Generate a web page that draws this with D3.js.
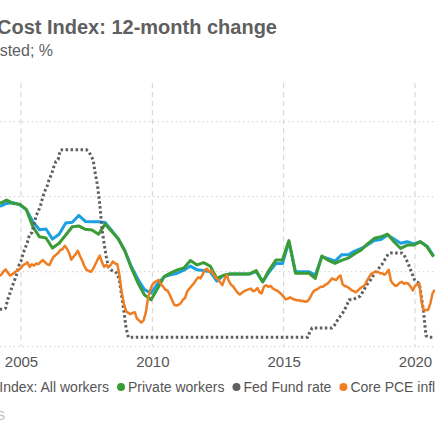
<!DOCTYPE html>
<html>
<head>
<meta charset="utf-8">
<script src="https://cdn.jsdelivr.net/npm/d3@7"></script>
<style>
  html, body { margin: 0; padding: 0; background: #fff; }
  svg { display: block; font-family: "Liberation Sans", Arial, Helvetica, sans-serif; }
</style>
</head>
<body>
<div id="chart"></div>
<script>
// quarterly ECI, first point = March 2004
var eciAll = [
    3.74, 3.82, 3.84, 3.78, 3.66, 3.33, 3.12, 3.14, 2.87, 3.0,
    3.3, 3.32, 3.5, 3.34, 3.33, 3.33, 3.31, 3.1, 2.87, 2.56,
    2.14, 1.8, 1.52, 1.43, 1.68, 1.86, 1.92, 1.96, 2.04, 2.15,
    2.05, 2.03, 2.0, 1.75, 1.9, 1.94, 1.94, 1.94, 1.94, 2.0,
    1.73, 2.0, 2.22, 2.22, 2.8, 2.0, 2.0, 2.0, 1.91, 2.4,
    2.35, 2.28, 2.45, 2.45, 2.55, 2.62, 2.72, 2.83, 2.86, 2.98,
    2.87, 2.76, 2.8, 2.74, 2.8, 2.68, 2.42
];
var eciPrivate = [
    3.82, 3.91, 3.82, 3.8, 3.66, 3.2, 2.93, 2.9, 2.63, 2.76,
    2.98, 3.2, 3.22, 3.13, 3.11, 3.0, 3.27, 3.07, 2.88, 2.55,
    2.1, 1.7, 1.38, 1.25, 1.55, 1.87, 1.97, 2.05, 2.1, 2.3,
    2.18, 2.24, 2.15, 1.82, 1.9, 1.94, 1.94, 1.94, 1.94, 2.03,
    1.73, 2.05, 2.31, 2.31, 2.83, 1.96, 1.96, 1.96, 1.82, 2.42,
    2.3, 2.22, 2.3, 2.36, 2.48, 2.58, 2.75, 2.89, 2.93, 3.0,
    2.8, 2.62, 2.71, 2.71, 2.8, 2.67, 2.4
];

// monthly, first point = January 2004
var corePce = [
    1.9, 1.95, 1.88, 1.92, 2.0, 2.06, 1.98, 1.9, 1.93, 1.98, 2.02, 2.05,
    2.1, 2.18, 2.2, 2.25, 2.13, 2.2, 2.16, 2.22, 2.2, 2.26, 2.31, 2.25,
    2.2, 2.18, 2.3, 2.4, 2.45, 2.5, 2.58, 2.6, 2.69, 2.62, 2.5, 2.32,
    2.4, 2.47, 2.56, 2.42, 2.3, 2.15, 2.05, 2.02, 2.0, 2.08, 2.2, 2.32,
    2.43, 2.25, 2.13, 2.18, 2.12, 2.18, 2.27, 2.22, 2.2, 1.9, 1.45, 1.15,
    0.95, 0.9, 0.87, 0.9, 0.92, 0.75, 0.7, 0.64, 0.7, 0.9, 1.28, 1.5,
    1.65, 1.72, 1.75, 1.78, 1.66, 1.6, 1.52, 1.5, 1.38, 1.25, 1.12, 1.1,
    1.12, 1.16, 1.25, 1.3, 1.48, 1.55, 1.62, 1.69, 1.78, 1.85, 1.82, 1.92,
    2.05, 2.08, 2.0, 2.02, 1.92, 1.84, 1.8, 1.72, 1.64, 1.8, 1.91, 1.75,
    1.65, 1.6, 1.52, 1.44, 1.39, 1.44, 1.48, 1.51, 1.53, 1.55, 1.48, 1.5,
    1.56, 1.45, 1.42, 1.6, 1.64, 1.6, 1.62, 1.56, 1.52, 1.5, 1.45, 1.4,
    1.33, 1.26, 1.28, 1.32, 1.28, 1.26, 1.24, 1.24, 1.22, 1.22, 1.2, 1.22,
    1.3, 1.42, 1.5, 1.52, 1.56, 1.6, 1.6, 1.65, 1.68, 1.74, 1.82, 1.8,
    1.78, 1.86, 1.9, 1.66, 1.62, 1.6, 1.56, 1.51, 1.48, 1.45, 1.5, 1.56,
    1.6, 1.64, 1.75, 1.85, 1.94, 1.98, 2.0, 2.0, 1.96, 1.96, 1.92, 1.97,
    2.05, 1.75, 1.68, 1.62, 1.64, 1.7, 1.73, 1.68, 1.7, 1.68, 1.6, 1.5,
    1.62, 1.65, 1.69, 1.2, 0.97, 0.98, 0.98, 1.15, 1.42, 1.52
];
var fedFunds = [
    1.0, 1.0, 1.0, 1.0, 1.0, 1.03, 1.26, 1.43, 1.61, 1.76, 1.93, 2.16,
    2.28, 2.5, 2.63, 2.79, 3.0, 3.04, 3.26, 3.5, 3.62, 3.78, 4.0, 4.16,
    4.29, 4.49, 4.59, 4.79, 4.94, 4.99, 5.24, 5.25, 5.25, 5.25, 5.25, 5.25,
    5.25, 5.25, 5.25, 5.25, 5.25, 5.25, 5.25, 5.2, 5.1, 4.98, 4.6, 4.3,
    3.8, 3.15, 2.75, 2.4, 2.12, 2.05, 2.02, 2.0, 1.95, 1.75, 1.35, 0.95,
    0.5, 0.25, 0.25, 0.25, 0.25, 0.25, 0.25, 0.25, 0.25, 0.25, 0.25, 0.25,
    0.25, 0.25, 0.25, 0.25, 0.25, 0.25, 0.25, 0.25, 0.25, 0.25, 0.25, 0.25,
    0.25, 0.25, 0.25, 0.25, 0.25, 0.25, 0.25, 0.25, 0.25, 0.25, 0.25, 0.25,
    0.25, 0.25, 0.25, 0.25, 0.25, 0.25, 0.25, 0.25, 0.25, 0.25, 0.25, 0.25,
    0.25, 0.25, 0.25, 0.25, 0.25, 0.25, 0.25, 0.25, 0.25, 0.25, 0.25, 0.25,
    0.25, 0.25, 0.25, 0.25, 0.25, 0.25, 0.25, 0.25, 0.25, 0.25, 0.25, 0.25,
    0.25, 0.25, 0.25, 0.25, 0.25, 0.25, 0.25, 0.25, 0.25, 0.25, 0.25, 0.25,
    0.4, 0.5, 0.5, 0.5, 0.5, 0.5, 0.5, 0.5, 0.5, 0.5, 0.5, 0.55,
    0.65, 0.75, 0.82, 0.9, 1.0, 1.13, 1.25, 1.25, 1.26, 1.3, 1.32, 1.35,
    1.45, 1.55, 1.65, 1.72, 1.8, 1.9, 1.98, 2.05, 2.13, 2.2, 2.3, 2.4,
    2.48, 2.5, 2.5, 2.5, 2.5, 2.5, 2.5, 2.45, 2.33, 2.2, 2.05, 1.9,
    1.75, 1.72, 1.69, 1.3, 0.9, 0.3, 0.25, 0.25, 0.25, 0.25
];

var yearTicks = [2005, 2010, 2015, 2020];
var yTicks = [0, 2, 4, 6];

var seriesNames = ["Employment Cost Index: All workers", "Private workers", "Fed Fund rate", "Core PCE inflation"];
var seriesColors = ["#1ba1e2", "#3b9c35", "#5f5f5f", "#ef7d22"];

var width = 435, height = 435;

function quarterly(values) {
    return values.map(function (v, k) {
        return { date: new Date(2004, 2 + 3 * k, 15), value: v };
    });
}
function monthly(values) {
    return values.map(function (v, i) {
        return { date: new Date(2004, i, 1), value: v };
    });
}

var svg = d3.select("#chart").append("svg")
    .attr("width", width)
    .attr("height", height);

var x = d3.scaleTime()
    .domain([new Date(2005, 0, 1), new Date(2020, 0, 1)])
    .range([21, 415]);

var y = d3.scaleLinear()
    .domain([0, 7])
    .range([346.7, 84.2]);

// title and subtitle (the left part runs off the frame)
svg.append("text")
    .attr("x", 277)
    .attr("y", 34)
    .attr("text-anchor", "end")
    .attr("font-size", "20px")
    .attr("font-weight", "bold")
    .attr("fill", "#5f5f5f")
    .text("Employment Cost Index: 12-month change");

svg.append("text")
    .attr("x", 53)
    .attr("y", 56)
    .attr("text-anchor", "end")
    .attr("font-size", "16px")
    .attr("fill", "#5f5f5f")
    .text("Seasonally adjusted; %");

// horizontal dotted grid
svg.selectAll(".hgrid")
    .data(yTicks)
    .enter()
    .append("line")
    .attr("class", "hgrid")
    .attr("x1", 0)
    .attr("x2", width)
    .attr("y1", function (d) { return y(d); })
    .attr("y2", function (d) { return y(d); })
    .attr("stroke", "#cfcfcf")
    .attr("stroke-width", 1)
    .attr("stroke-dasharray", "1.5,3");

// vertical dashed grid
svg.selectAll(".vgrid")
    .data(yearTicks)
    .enter()
    .append("line")
    .attr("class", "vgrid")
    .attr("x1", function (d) { return x(new Date(d, 0, 1)); })
    .attr("x2", function (d) { return x(new Date(d, 0, 1)); })
    .attr("y1", y(7) - 1)
    .attr("y2", y(0))
    .attr("stroke", "#d0d0d0")
    .attr("stroke-width", 1)
    .attr("stroke-dasharray", "5,4");

// x axis labels
var xAxis = d3.axisBottom(x)
    .tickValues(yearTicks.map(function (d) { return new Date(d, 0, 1); }))
    .tickFormat(d3.timeFormat("%Y"))
    .tickSize(0)
    .tickPadding(10);

var axisG = svg.append("g")
    .attr("transform", "translate(0," + y(0) + ")")
    .call(xAxis);
axisG.select(".domain").remove();
axisG.selectAll("text")
    .attr("font-family", "Liberation Sans, Arial, sans-serif")
    .attr("font-size", "15px")
    .attr("fill", "#555");

// lines
var line = d3.line()
    .x(function (d) { return x(d.date); })
    .y(function (d) { return y(d.value); });

svg.append("path")
    .datum(quarterly(eciAll))
    .attr("fill", "none")
    .attr("stroke", seriesColors[0])
    .attr("stroke-width", 3)
    .attr("stroke-linejoin", "round")
    .attr("d", line);

svg.append("path")
    .datum(quarterly(eciPrivate))
    .attr("fill", "none")
    .attr("stroke", seriesColors[1])
    .attr("stroke-width", 3)
    .attr("stroke-linejoin", "round")
    .attr("d", line);

svg.append("path")
    .datum(monthly(fedFunds))
    .attr("fill", "none")
    .attr("stroke", seriesColors[2])
    .attr("stroke-width", 3)
    .attr("stroke-dasharray", "2.5,2.5")
    .attr("d", line);

svg.append("path")
    .datum(monthly(corePce))
    .attr("fill", "none")
    .attr("stroke", seriesColors[3])
    .attr("stroke-width", 2.5)
    .attr("stroke-linejoin", "round")
    .attr("d", line);

// legend, chained left to right; first item ends at x=109
var legend = svg.append("g").attr("font-size", "14px");
var legendY = 392;
var first = legend.append("text")
    .attr("x", 109)
    .attr("y", legendY)
    .attr("text-anchor", "end")
    .attr("fill", "#555")
    .text(seriesNames[0]);
legend.append("circle")
    .attr("cx", 109 - first.node().getComputedTextLength() - 7)
    .attr("cy", legendY - 5)
    .attr("r", 4)
    .attr("fill", seriesColors[0]);

var cursor = 109;
for (var s = 1; s < seriesNames.length; s++) {
    var cx = cursor + 12;
    legend.append("circle")
        .attr("cx", cx)
        .attr("cy", legendY - 5)
        .attr("r", 4)
        .attr("fill", seriesColors[s]);
    var t = legend.append("text")
        .attr("x", cx + 7)
        .attr("y", legendY)
        .attr("fill", "#555")
        .text(seriesNames[s]);
    cursor = cx + 7 + t.node().getComputedTextLength();
}

// source line, mostly out of frame
svg.append("text")
    .attr("x", 5)
    .attr("y", 420)
    .attr("text-anchor", "end")
    .attr("font-size", "12px")
    .attr("fill", "#bbb")
    .text("Source: FRED, BLS");
</script>
</body>
</html>
